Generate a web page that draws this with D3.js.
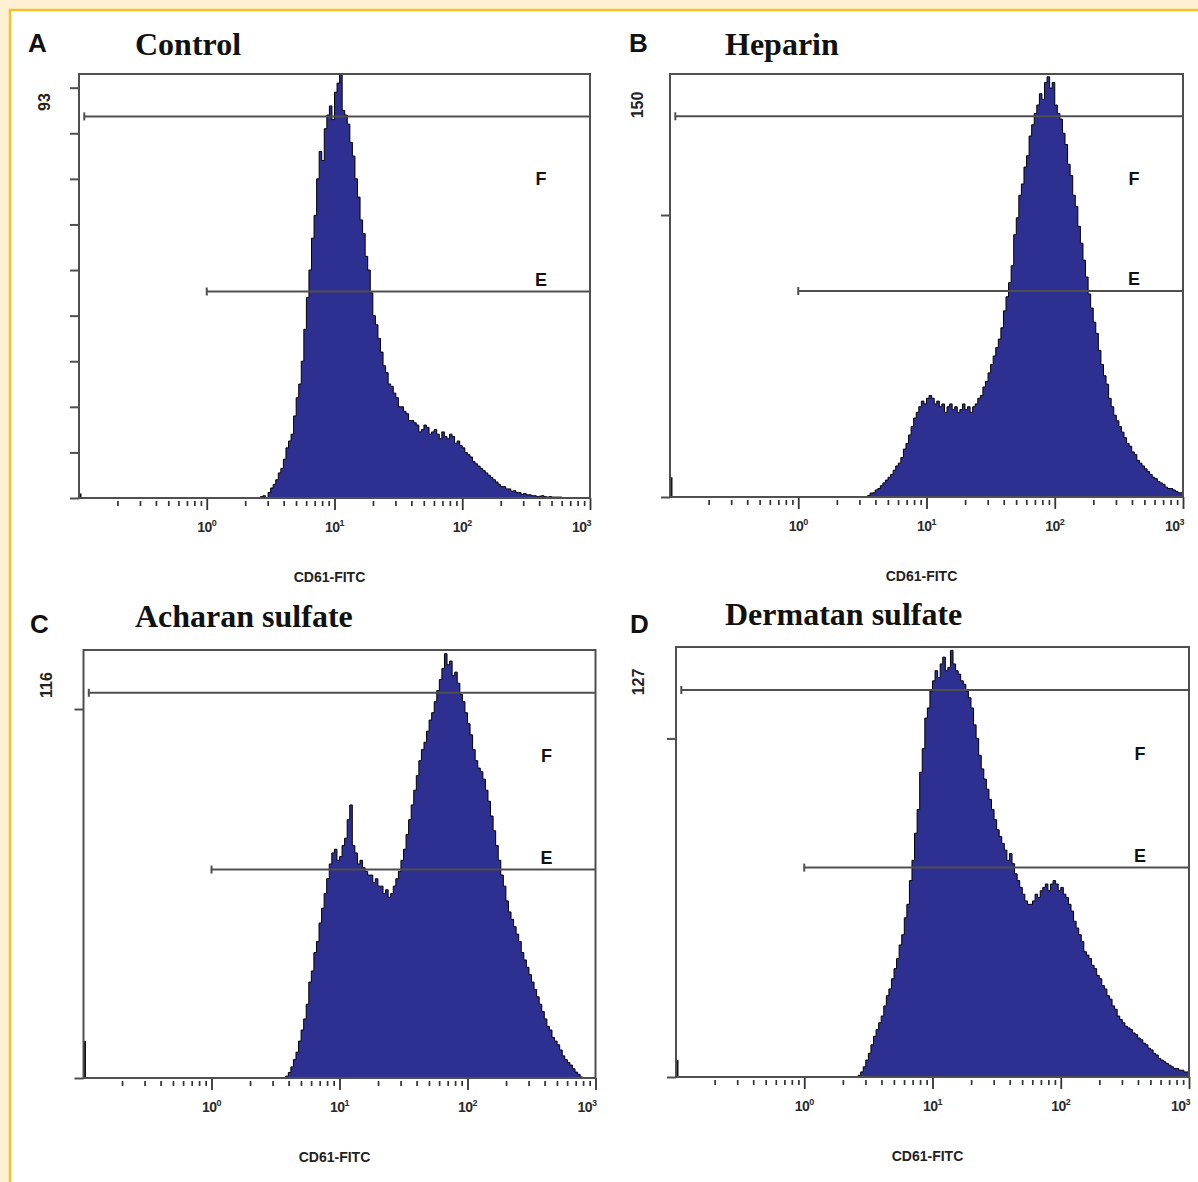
<!DOCTYPE html>
<html>
<head>
<meta charset="utf-8">
<script src="https://cdn.jsdelivr.net/npm/d3@7"></script>
<style>
    body { margin: 0; background: #fff; }
    svg text { font-family: "Liberation Sans", Arial, sans-serif; }
</style>
</head>
<body>
<div id="chart"></div>
<script>

// ---- data ----
const panelLetters = ["A", "B", "C", "D"];
const panelTitles = ["Control", "Heparin", "Acharan sulfate", "Dermatan sulfate"];
const yMaxValues = [93, 150, 116, 127];
const yTickValues = [[0, 10, 20, 30, 40, 50, 60, 70, 80, 90], [0, 100], [0, 100], [0, 100]];
const xDomain = [0.1, 1000];
const xMajorTicks = [1, 10, 100, 1000];
const xTickExponents = ["0", "1", "2", "3"];
const xAxisTitle = "CD61-FITC";
const gateNames = ["F", "E"];
const gateRanges = [[0.11, 1000], [1, 1000]];

// histogram channels: log10 of first bin and bin width (decades)
const binWidthLog = 0.02;
const firstBinLog = [0.40, 0.50, 0.56, 0.40];
// events piled up in the lowest channel
const firstChannelCounts = [1, 7, 10, 5];

const controlCounts = [0, 0.3, 0.5, 0, 1.2, 2.2, 3, 4, 5.5, 6.5, 8.5, 11, 12.5, 14, 18, 22, 25, 30, 37, 44,
    50, 57, 62, 70, 76, 74, 81, 84, 86, 83, 89, 91, 93, 85, 84, 82, 78, 75, 70, 66,
    61, 58, 53, 50, 45, 40, 38, 35, 32, 29, 27.5, 25, 24.5, 23, 22, 20, 20, 19, 18.5, 17,
    17, 16.5, 16, 14.5, 15, 16, 15.5, 14, 14.5, 15, 14, 13, 14.5, 13.5, 13, 14, 13.5, 12, 12.5, 11.5,
    11, 10, 9.5, 9, 8, 7.5, 7, 6.5, 6, 5.5, 5, 4.5, 4, 3.5, 3, 2.5, 2.5, 2, 2, 1.5,
    1.6, 1.2, 1.2, 0.8, 1, 0.7, 0.7, 0.5, 0.5, 0.3, 0.4, 0.5, 0.3, 0.2, 0.3, 0.2, 0.2, 0.2, 0.2, 0, 0];

const heparinCounts = [0, 0, 0.5, 1.4, 1.5, 2.5, 3, 4, 5, 6, 7, 8, 9.5, 11, 12, 14, 17, 19, 22, 25,
    28, 30, 32, 34, 33, 35, 36, 35, 33, 34, 32, 33, 30, 32, 33, 31, 32, 30, 31, 33,
    31, 32, 30, 32, 33, 35, 36, 39, 41, 44, 47, 50, 53, 56, 60, 66, 71, 76, 82, 93,
    99, 107, 111, 117, 121, 128, 132, 136, 139, 143, 141, 147, 149, 145, 147, 139, 136, 134, 129, 125,
    118, 114, 107, 103, 96, 90, 84, 78, 72, 67, 62, 58, 52, 47, 43, 40, 35, 32, 29, 27,
    25, 23, 21, 19, 18, 16, 15, 13, 12, 11, 10, 9, 8, 7, 6.5, 5.5, 5, 4.5, 3.5, 3,
    3, 2.5, 2, 1.5, 1.5, 1];

const acharanCounts = [0, 0.5, 1.5, 3, 5, 7, 10, 13, 16, 20, 26, 29, 34, 37, 42, 46, 50, 54, 58, 61,
    62, 59, 60, 63, 65, 70, 74, 63, 61, 58, 59, 57, 56, 55, 55, 53, 54, 52, 52, 50,
    51, 49, 50, 52, 54, 56, 59, 62, 66, 70, 74, 78, 82, 86, 89, 91, 94, 97, 99, 102,
    105, 108, 111, 115, 112, 113, 109, 110, 107, 104, 102, 99, 96, 93, 89, 86, 84, 83, 81, 78,
    75, 71, 67, 63, 59, 55, 52, 48, 45, 43, 41, 39, 37, 34, 32, 30, 28, 26, 24, 22,
    20, 18, 16, 14, 13, 11, 10, 9, 7.6, 6, 5, 4.2, 3.5, 2.5, 1.6, 1, 0.3, 0];

const dermatanCounts = [0, 0.5, 1.5, 3, 5, 7, 9.5, 12, 14, 16, 18, 21, 24, 26, 29, 32, 35, 39, 42, 47,
    51, 58, 64, 72, 79, 90, 97, 106, 109, 114, 117, 120, 118, 122, 124, 120, 121, 126, 122, 120,
    119, 117, 116, 114, 112, 109, 104, 100, 95, 91, 88, 85, 82, 79, 76, 73, 71, 69, 67, 64,
    66, 63, 60, 58, 56, 54, 52, 51, 51, 52, 54, 53, 55, 56, 57, 55, 57, 58, 57, 55,
    56, 54, 53, 51, 49, 46, 44, 42, 40, 37, 36, 35, 33, 32, 30, 29, 27, 26, 24, 23,
    21, 20, 18, 17, 16, 15, 14.5, 14, 13, 12.5, 11.5, 11, 10, 9.5, 8.5, 8, 7, 6.5, 5.5, 5,
    4.5, 4, 3.5, 3, 2.5, 2.5, 2, 2, 1.5, 1.5];

const panelCounts = [controlCounts, heparinCounts, acharanCounts, dermatanCounts];

// ---- layout (pixels) ----
const layout = [
    {x0: 79, y0: 74, x1: 590, y1: 498, letter: [28, 52], title: [135, 55], ymaxLabel: [44, 102]},
    {x0: 670, y0: 74, x1: 1183, y1: 497, letter: [629, 52], title: [725, 55], ymaxLabel: [637, 105]},
    {x0: 83.5, y0: 650, x1: 595.5, y1: 1078, letter: [30, 633], title: [135, 627], ymaxLabel: [46, 685]},
    {x0: 676, y0: 647, x1: 1189, y1: 1077, letter: [630, 633], title: [725, 625], ymaxLabel: [638, 682]}
];
const gateLevel = [0.9, 0.487];   // fraction of plot height
const fillColor = "#2e3091";
const frameColor = "#4f4f4f";

const svg = d3.select("#chart").append("svg")
    .attr("width", 1198)
    .attr("height", 1182);

// page frame: cream margin with gold rule
svg.append("rect").attr("width", 1198).attr("height", 1182).attr("fill", "#fdf0d5");
svg.append("rect").attr("x", 11).attr("y", 11).attr("width", 1187).attr("height", 1171).attr("fill", "#fff");
svg.append("line").attr("x1", 9).attr("x2", 1198).attr("y1", 10).attr("y2", 10)
    .attr("stroke", "#f5c12a").attr("stroke-width", 2.5);
svg.append("line").attr("x1", 10).attr("x2", 10).attr("y1", 9).attr("y2", 1182)
    .attr("stroke", "#f5c12a").attr("stroke-width", 2.5);

panelCounts.forEach((counts, p) => {
    const L = layout[p];
    const g = svg.append("g").attr("class", "panel panel-" + panelLetters[p]);

    const x = d3.scaleLog().domain(xDomain).range([L.x0, L.x1]);
    const y = d3.scaleLinear().domain([0, yMaxValues[p]]).range([L.y1, L.y0]);

    // histogram bins -> step area
    const bins = counts.map((c, i) => ({lo: Math.pow(10, firstBinLog[p] + i * binWidthLog), c: c}));
    const last = counts[counts.length - 1];
    bins.push({lo: Math.pow(10, firstBinLog[p] + counts.length * binWidthLog), c: last});

    const clipId = "clip" + p;
    g.append("clipPath").attr("id", clipId)
        .append("rect")
        .attr("x", L.x0).attr("y", L.y0)
        .attr("width", L.x1 - L.x0).attr("height", L.y1 - L.y0);

    const area = d3.area()
        .x(d => x(d.lo))
        .y0(y(0))
        .y1(d => y(d.c))
        .curve(d3.curveStepAfter);
    const outline = d3.line()
        .x(d => x(d.lo))
        .y(d => y(d.c))
        .curve(d3.curveStepAfter);

    const hist = g.append("g").attr("clip-path", `url(#${clipId})`);
    hist.append("path")
        .datum(bins)
        .attr("d", area)
        .attr("fill", fillColor);
    hist.append("path")
        .datum(bins)
        .attr("d", outline)
        .attr("fill", "none")
        .attr("stroke", "#000")
        .attr("stroke-width", 1);

    // first channel spike
    hist.append("line")
        .attr("x1", x(xDomain[0]) + 1.5).attr("x2", x(xDomain[0]) + 1.5)
        .attr("y1", y(0)).attr("y2", y(firstChannelCounts[p]))
        .attr("stroke", "#111").attr("stroke-width", 2);

    // y axis ticks
    g.append("g")
        .attr("transform", `translate(${L.x0},0)`)
        .call(d3.axisLeft(y).tickValues(yTickValues[p]).tickSize(9).tickFormat(""))
        .call(a => a.select(".domain").remove())
        .call(a => a.selectAll("line").attr("stroke", frameColor).attr("stroke-width", 2));

    // x axis: major ticks
    g.append("g")
        .attr("transform", `translate(0,${L.y1})`)
        .call(d3.axisBottom(x).tickValues(xMajorTicks).tickSize(12).tickFormat(""))
        .call(a => a.select(".domain").remove())
        .call(a => a.selectAll("line").attr("stroke", "#333").attr("stroke-width", 1.8));

    // x axis: minor ticks, set slightly below the axis line
    const minors = [];
    for (let dec = 0.1; dec < 1000; dec *= 10) {
        for (let k = 2; k <= 9; k++) minors.push(dec * k);
    }
    g.append("g")
        .attr("transform", `translate(0,${L.y1 + 3})`)
        .call(d3.axisBottom(x).tickValues(minors).tickSize(5).tickFormat(""))
        .call(a => a.select(".domain").remove())
        .call(a => a.selectAll("line").attr("stroke", "#333").attr("stroke-width", 1.7));

    // decade labels
    xMajorTicks.forEach((v, i) => {
        const t = g.append("text")
            .attr("x", x(v) + (i === xMajorTicks.length - 1 ? 1 : 0))
            .attr("y", L.y1 + 34)
            .attr("text-anchor", i === xMajorTicks.length - 1 ? "end" : "middle")
            .style("font-size", "14px")
            .style("font-weight", "bold")
            .style("letter-spacing", "-0.5px")
            .attr("fill", "#2a2a2a");
        t.append("tspan").text("10");
        t.append("tspan").attr("dy", -6).style("font-size", "9px").text(xTickExponents[i]);
    });

    // axis title
    g.append("text")
        .attr("x", (L.x0 + L.x1) / 2 - 5)
        .attr("y", L.y1 + 84)
        .attr("text-anchor", "middle")
        .style("font-size", "14px")
        .style("font-weight", "bold")
        .attr("fill", "#222")
        .text(xAxisTitle);

    // plot frame
    g.append("rect")
        .attr("x", L.x0).attr("y", L.y0)
        .attr("width", L.x1 - L.x0).attr("height", L.y1 - L.y0)
        .attr("fill", "none")
        .attr("stroke", frameColor)
        .attr("stroke-width", 2);

    // gate markers F and E
    gateNames.forEach((name, k) => {
        const gy = L.y1 - gateLevel[k] * (L.y1 - L.y0);
        const gx0 = x(gateRanges[k][0]);
        const gx1 = x(gateRanges[k][1]);
        g.append("line")
            .attr("x1", gx0).attr("x2", gx1)
            .attr("y1", gy).attr("y2", gy)
            .attr("stroke", frameColor).attr("stroke-width", 2);
        g.append("line")
            .attr("x1", gx0).attr("x2", gx0)
            .attr("y1", gy - 4).attr("y2", gy + 4)
            .attr("stroke", frameColor).attr("stroke-width", 2);
        const ly = k === 0 ? L.y0 + 0.262 * (L.y1 - L.y0) : gy - 6;
        g.append("text")
            .attr("x", L.x1 - 49)
            .attr("y", ly)
            .attr("text-anchor", "middle")
            .style("font-size", "18px")
            .style("font-weight", "bold")
            .attr("fill", "#111")
            .text(name);
    });

    // y max label, rotated
    g.append("text")
        .attr("transform", `translate(${L.ymaxLabel[0]},${L.ymaxLabel[1]}) rotate(-90)`)
        .attr("text-anchor", "middle")
        .attr("dy", "0.35em")
        .style("font-size", "16px")
        .style("font-weight", "bold")
        .attr("fill", "#222")
        .text(yMaxValues[p]);

    // panel letter and title
    g.append("text")
        .attr("x", L.letter[0]).attr("y", L.letter[1])
        .style("font-size", "26px")
        .style("font-weight", "bold")
        .attr("fill", "#111")
        .text(panelLetters[p]);
    g.append("text")
        .attr("x", L.title[0]).attr("y", L.title[1])
        .style("font-family", "'Liberation Serif', 'Times New Roman', serif")
        .style("font-size", "32px")
        .style("font-weight", "bold")
        .attr("fill", "#111")
        .text(panelTitles[p]);
});

</script>
</body>
</html>
